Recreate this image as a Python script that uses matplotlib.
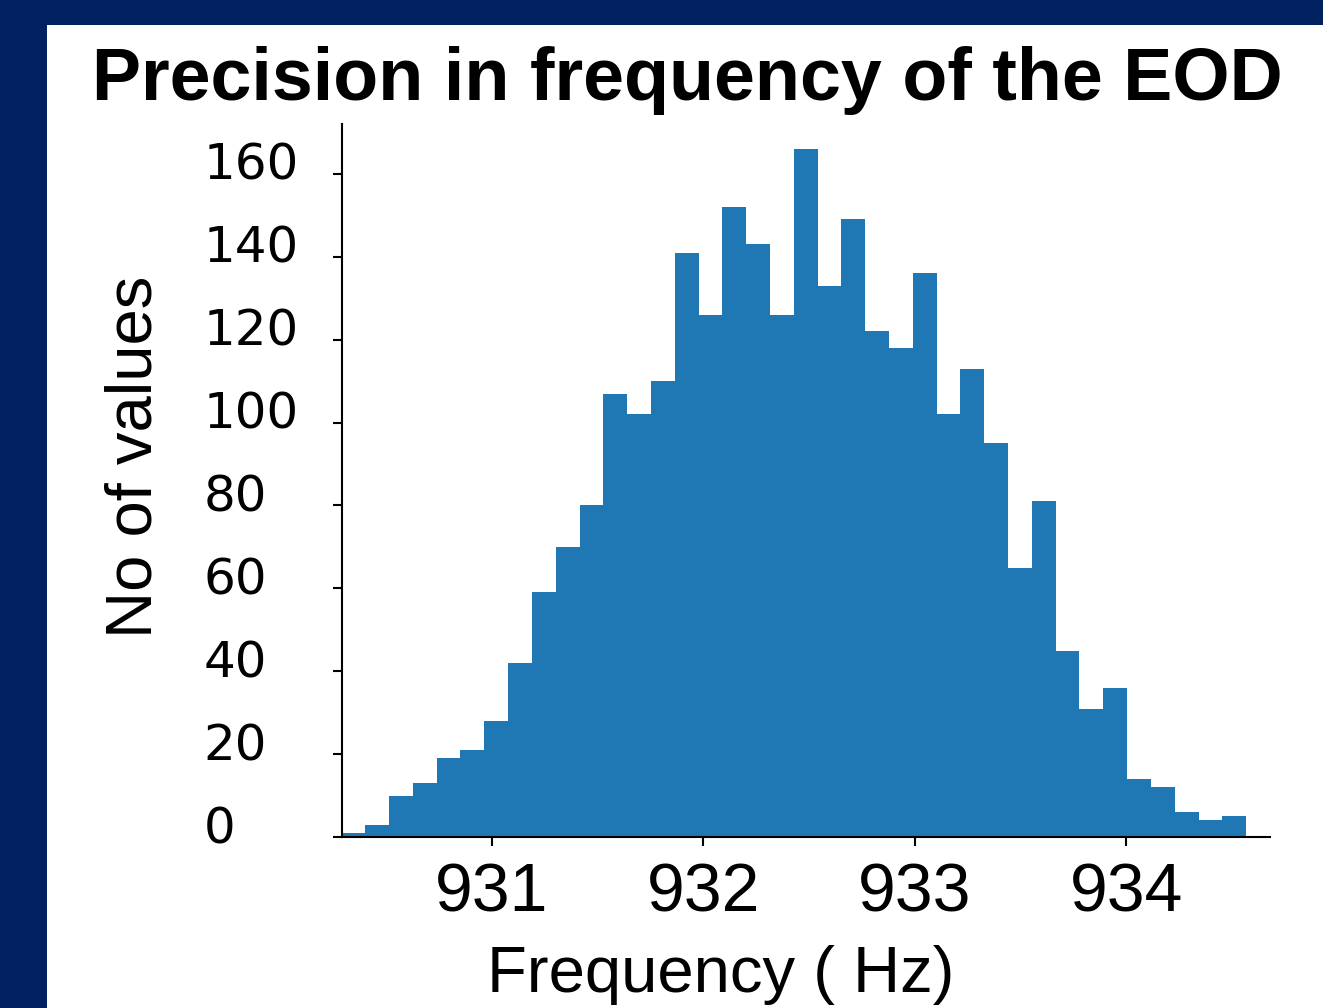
import matplotlib
matplotlib.use("Agg")
import matplotlib.pyplot as plt
from matplotlib.patches import Rectangle
from matplotlib.transforms import ScaledTranslation
import numpy as np

# histogram counts (38 equal bins)
counts = [1, 3, 10, 13, 19, 21, 28, 42, 59, 70,
          80, 107, 102, 110, 141, 126, 152, 143, 126, 166,
          133, 149, 122, 118, 136, 102, 113, 95, 65, 81,
          45, 31, 36, 14, 12, 6, 4, 5]
bin_start = 930.289
bin_width = 0.1126
x_ticks = [931, 932, 933, 934]
y_ticks = [0, 20, 40, 60, 80, 100, 120, 140, 160]

navy = "#002060"
blue = "#1f77b4"

fig = plt.figure(figsize=(13.23, 10.08), dpi=100, facecolor=navy)
# white slide panel, behind the axes
fig.patches.append(Rectangle((47 / 1323, 0), 1 - 47 / 1323, 1 - 25 / 1008,
                             transform=fig.transFigure, facecolor="white",
                             edgecolor="none", zorder=-10))

ax = fig.add_axes([0.2583, 0.1696, 0.7017, 0.7073])
ax.set_facecolor("none")

edges = bin_start + bin_width * np.arange(len(counts) + 1)
ax.stairs(counts, edges, fill=True, color=blue, linewidth=0)

ax.set_xlim(930.2904, 934.681)
ax.set_ylim(0, 172)

for s in ["top", "right"]:
    ax.spines[s].set_visible(False)
for s in ["left", "bottom"]:
    ax.spines[s].set_linewidth(1.5)
    ax.spines[s].set_color("black")

ax.set_xticks(x_ticks)
ax.set_xticklabels([str(t) for t in x_ticks], fontfamily="Liberation Sans", fontsize=49)
ax.tick_params(axis="x", length=6.5, width=1.5, pad=11)

ax.set_yticks(y_ticks)
ax.set_yticklabels([str(t) for t in y_ticks], fontfamily="DejaVu Sans", fontsize=36,
                   ha="left", va="baseline")
ax.tick_params(axis="y", length=6.5, width=1.5, pad=93)
# labels sit a little above their ticks, as in the slide
shift = ScaledTranslation(0, -6 / 100, fig.dpi_scale_trans)
for lab in ax.get_yticklabels():
    lab.set_transform(lab.get_transform() + shift)

fig.text(687 / 1323, 1 - 100 / 1008, "Precision in frequency of the EOD",
         fontfamily="Liberation Sans", fontweight="bold", fontsize=53,
         ha="center", va="baseline")
fig.text(135 / 1323, 1 - 457 / 1008, "No of values", fontfamily="Liberation Sans",
         fontsize=47, rotation=90, ha="center", va="center")
fig.text(721 / 1323, 1 - 992 / 1008, "Frequency ( Hz)", fontfamily="Liberation Sans",
         fontsize=47, ha="center", va="baseline")

fig.savefig("out.png", dpi=100, facecolor=navy)
